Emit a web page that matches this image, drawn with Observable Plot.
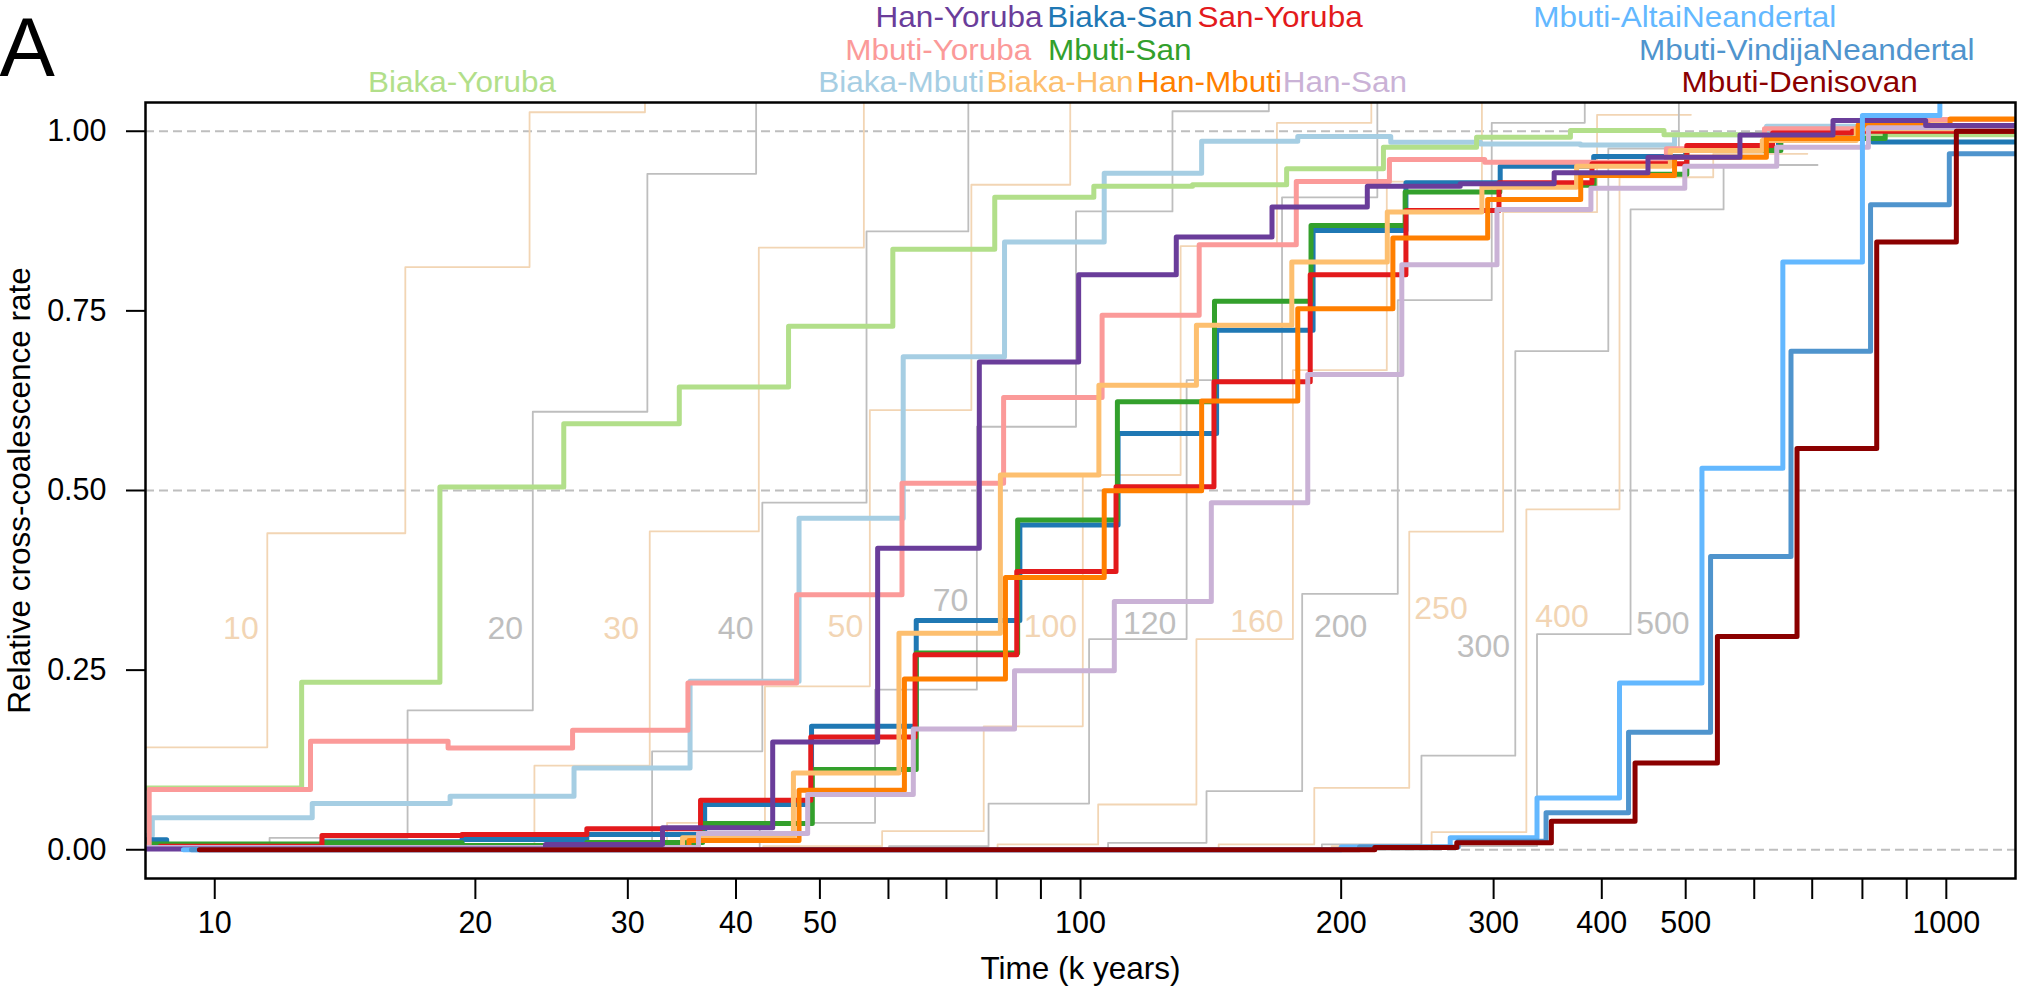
<!DOCTYPE html>
<html>
<head>
<meta charset="utf-8">
<script src="https://cdn.jsdelivr.net/npm/d3@7"></script>
<script src="https://cdn.jsdelivr.net/npm/@observablehq/plot@0.6"></script>
<style>
  html, body { margin: 0; padding: 0; background: #fff; }
  svg { display: block; }
</style>
</head>
<body>
<div id="chart"></div>
<script>
// ---------- data (time in k years, relative cross-coalescence rate) ----------
const biakaMbuti = [[8.0,0.02],[8.47,0.0444],[12.96,0.0644],[18.7,0.0745],[26.0,0.1139],[35.4,0.2344],[47.3,0.4613],[62.4,0.686],[81.7,0.8458],[106.5,0.9417],[138,0.9861],[178.2,0.9926],[228.2,0.9847],[289.8,0.9824],[378,0.981],[485.4,0.995],[620,1.007],[800,1.008],[1300,1.008]];
const biakaSan = [[8.0,0.014],[8.8,0.005],[13.3,0.011],[19.3,0.0143],[26.9,0.0213],[36.8,0.063],[48.9,0.1718],[64.6,0.3191],[85.1,0.4521],[110.5,0.5794],[143.6,0.723],[185.6,0.862],[237.6,0.9282],[305.3,0.9514],[391.5,0.9648],[500,0.975],[640,0.99],[822,0.985],[1300,0.995]];
const biakaYoruba = [[8.0,0.086],[12.6,0.233],[18.2,0.505],[25.3,0.593],[34.4,0.644],[46.0,0.7286],[60.7,0.8356],[79.6,0.908],[103.6,0.9236],[134.7,0.9255],[173,0.9477],[223.8,0.9778],[286.7,0.9917],[368,1.001],[472,0.995],[1300,0.995]];
const mbutiSan = [[8.0,0.008],[13.4,0.0097],[19.3,0.006],[26.9,0.01],[36.6,0.0366],[49.0,0.1116],[64.6,0.2737],[84.6,0.459],[110.3,0.6234],[142.8,0.7633],[184.6,0.8689],[237.1,0.9153],[305,0.925],[392,0.94],[501.5,0.9732],[644,0.99],[850,1.0],[1300,1.0]];
const mbutiYoruba = [[8.0,0.005],[8.4,0.0838],[12.9,0.151],[18.6,0.1417],[25.9,0.1663],[35.2,0.232],[47.0,0.3548],[62.2,0.51],[81.5,0.6295],[105.9,0.7439],[137.1,0.842],[177.5,0.93],[227.4,0.9607],[293,0.957],[378.2,0.957],[475,0.9755],[616.6,1.0033],[952,1.0163],[1300,1.0163]];
const sanYoruba = [[8.65,0.005],[13.3,0.0199],[19.3,0.0213],[26.9,0.0292],[36.4,0.069],[48.8,0.157],[64.4,0.2714],[84.4,0.3872],[109.9,0.5053],[142.6,0.6512],[184.2,0.8004],[237.6,0.8898],[304.3,0.9282],[389.7,0.9546],[501.5,0.9801],[630,0.9977],[778.6,1.0],[1300,1.0]];
const biakaHan = [[8.0,0.002],[34.7,0.0166],[46.6,0.107],[61.7,0.3015],[80.8,0.5216],[105,0.6466],[136.1,0.73],[175.4,0.818],[226.1,0.8875],[290.8,0.9222],[374.1,0.9514],[480,0.9732],[613,0.987],[787,1.0033],[1300,1.0033]];
const hanMbuti = [[8.0,0.002],[35.3,0.0129],[47.3,0.0829],[62.6,0.2376],[81.9,0.3789],[106.5,0.4998],[138,0.6244],[178.2,0.7531],[229.5,0.8513],[295.3,0.9051],[378.2,0.9384],[485.4,0.9639],[619.7,0.99],[791,1.0088],[1010,1.017],[1300,1.017]];
const hanSan = [[8.0,0.003],[36.2,0.0227],[48.4,0.0769],[64.1,0.1681],[83.9,0.2492],[109.4,0.3455],[141.6,0.4831],[183,0.6614],[235,0.8143],[302.7,0.8912],[388.6,0.9208],[498.8,0.9514],[637,0.9778],[812.8,1.0047],[1300,1.0047]];
const hanYoruba = [[8.0,0.001],[24.1,0.0074],[32.9,0.0305],[44.1,0.15],[58.3,0.4196],[76.4,0.679],[99.5,0.8004],[129,0.8527],[166.4,0.8944],[214.4,0.9236],[274.5,0.9268],[352.4,0.9421],[452.3,0.9639],[577.6,0.9949],[739.8,1.0149],[946.6,1.0079],[1300,1.0079]];
const mbutiAltai = [[9.2,0.0],[200,0.004],[267.3,0.0166],[336.7,0.0722],[419.3,0.232],[522.1,0.5308],[647.4,0.818],[800,1.0218],[983,1.3]];
const mbutiVindija = [[9.4,0.0],[210,0.004],[273,0.012],[344.9,0.0514],[429.5,0.1635],[534.2,0.408],[661.6,0.6939],[817.5,0.8977],[1008,0.9685],[1300,0.9685]];
const mbutiDenisovan = [[9.6,0.0],[218.7,0.003],[272,0.0097],[349.8,0.0398],[437,0.1209],[544,0.2969],[672.3,0.5586],[831,0.8458],[1027,1.0],[1300,1.0]];

const pairNames = ["Biaka-Mbuti","Biaka-San","Biaka-Yoruba","Mbuti-San","Mbuti-Yoruba","San-Yoruba","Biaka-Han","Han-Mbuti","Han-San","Han-Yoruba","Mbuti-AltaiNeandertal","Mbuti-VindijaNeandertal","Mbuti-Denisovan"];
const pairSeries = [biakaMbuti, biakaSan, biakaYoruba, mbutiSan, mbutiYoruba, sanYoruba, biakaHan, hanMbuti, hanSan, hanYoruba, mbutiAltai, mbutiVindija, mbutiDenisovan];
const pairColors = ["#A6CEE3","#1F78B4","#B2DF8A","#33A02C","#FB9A99","#E31A1C","#FDBF6F","#FF7F00","#CAB2D6","#6A3D9A","#63B8FF","#4F94CD","#8B0000"];
// where each pair name is written above the panel (k years) and its text row
const pairLabelTime = [62.1, 111, 19.3, 111, 68.5, 170, 94.7, 140.9, 202, 72.4, 498.7, 690, 677];
const pairLabelRow  = [3, 1, 3, 2, 2, 1, 3, 3, 3, 1, 1, 2, 3];

// simulated clean-split reference curves (split time in k years)
const ref10  = [[8.0,0.1426],[11.5,0.4405],[16.6,0.811],[23.1,1.0264],[31.4,1.3]];
const ref20  = [[8.0,0.0],[11.57,0.0166],[16.7,0.194],[23.3,0.6096],[31.6,0.9407],[42.2,1.3]];
const ref30  = [[8.0,0.0],[16.7,0.008],[23.4,0.117],[31.8,0.443],[42.5,0.838],[56.2,1.3]];
const ref40  = [[11.5,0.0],[23.3,0.007],[32.0,0.137],[42.9,0.483],[56.6,0.8606],[74.2,1.3]];
const ref50  = [[16.6,0.0],[33.3,0.0375],[43.2,0.2274],[57.1,0.612],[74.8,0.9255],[97.3,1.3]];
const ref70  = [[23,0.0],[42.6,0.0375],[57.9,0.2228],[75.9,0.5887],[98.8,0.8884],[127.7,1.0278],[165,1.3]];
const ref100 = [[31,0.0],[43,0.005],[59.0,0.0259],[77.3,0.1718],[100.6,0.5216],[130.5,0.8402],[168.6,1.0116],[216.7,1.3]];
const ref120 = [[42,0.0],[60.1,0.005],[78.3,0.0643],[102.3,0.2932],[132.6,0.6536],[170.9,0.908],[220.2,1.3]];
const ref160 = [[57,0.0],[80.2,0.0074],[104.8,0.063],[136.1,0.2932],[175.9,0.6674],[225.8,0.93],[290.8,1.3]];
const ref200 = [[80,0.0],[107.6,0.0097],[139.8,0.0815],[180.3,0.3562],[232.5,0.765],[298.5,1.0117],[382.3,1.3]];
const ref250 = [[100,0.0],[144.4,0.0074],[186.2,0.0861],[239.7,0.4428],[307.7,0.8874],[395,1.0228],[507,1.0228]];
const ref300 = [[140,0.0],[190,0.0074],[247.6,0.131],[317.8,0.6939],[407,0.976],[491,1.3]];
const ref400 = [[150,0.0],[195,0.005],[254.4,0.0245],[327.3,0.4738],[419.3,0.936],[538,0.9686],[691,0.9686]];
const ref500 = [[190,0.0],[260,0.005],[336.7,0.3001],[431.8,0.8912],[553,0.953],[710,0.953]];

const refSeries = [ref10, ref20, ref30, ref40, ref50, ref70, ref100, ref120, ref160, ref200, ref250, ref300, ref400, ref500];
const refLabelText = ["10","20","30","40","50","70","100","120","160","200","250","300","400","500"];
const refLabelTime = [11.24, 22.7, 30.9, 41.9, 56.1, 74.2, 99.1, 129, 171.6, 214.4, 280, 313.4, 386.3, 505.3];
const refLabelY    = [0.308, 0.308, 0.308, 0.308, 0.310, 0.346, 0.310, 0.314, 0.317, 0.311, 0.336, 0.283, 0.324, 0.315];

const xTicks = [10,20,30,40,50,60,70,80,90,100,200,300,400,500,600,700,800,900,1000];
const xTickLabeled = [10,20,30,40,50,100,200,300,400,500,1000];
const yTicks = [0, 0.25, 0.5, 0.75, 1];
const dashedLevels = [0, 0.5, 1];

// ---------- styling ----------
const FONT = "'Liberation Sans', Arial, Helvetica, sans-serif";
const TAN = "#F2D5B4";
const GREY = "#BEBEBE";
const refColor = (i) => (i % 2 === 0 ? TAN : GREY);
// baseline of the three label rows above the panel (in y units, above the domain)
const rowY = {1: 1.1446, 2: 1.0994, 3: 1.0542};
const LABEL_SIZE = 29;          // glyph height of the pair names
const LABEL_STRETCH = 31.5 / 29; // the names are drawn slightly wide

const toRows = (arr) => arr.map(([t, v]) => ({t, v}));

const refMarks = refSeries.map((s, i) =>
  Plot.line(toRows(s), {x: "t", y: "v", curve: "step-after", stroke: refColor(i), strokeWidth: 1.8, clip: true})
);
const pairMarks = pairSeries.map((s, i) =>
  Plot.line(toRows(s), {x: "t", y: "v", curve: "step-after", stroke: pairColors[i], strokeWidth: 5, clip: true,
    strokeLinecap: "round", strokeLinejoin: "round"})
);

const refLabels = refLabelText.map((txt, i) => ({txt, t: refLabelTime[i], y: refLabelY[i], c: refColor(i)}));
const pairLabels = pairNames.map((name, i) => ({name, t: pairLabelTime[i], y: rowY[pairLabelRow[i]], c: pairColors[i]}));

const chart = Plot.plot({
  width: 2020,
  height: 990,
  marginLeft: 145,
  marginRight: 5,
  marginTop: 102,
  marginBottom: 112,
  style: {fontFamily: FONT, background: "#fff", overflow: "visible"},
  color: {type: "identity"},
  x: {type: "log", domain: [8.318, 1202]},
  y: {domain: [-0.04, 1.04]},
  marks: [
    Plot.ruleY(dashedLevels, {stroke: GREY, strokeWidth: 2, strokeDasharray: "9,5"}),
    ...refMarks,
    Plot.text(refLabels, {x: "t", y: "y", text: "txt", fill: "c", fontSize: 32, textAnchor: "end", lineAnchor: "middle"}),
    ...pairMarks,
    Plot.frame({stroke: "black", strokeWidth: 2.5}),
    Plot.axisX(xTicks, {
      tickSize: 21, tickPadding: 12, fontSize: 30.5, strokeWidth: 2, label: null,
      tickFormat: (d) => (xTickLabeled.includes(d) ? String(d) : "")
    }),
    Plot.axisY(yTicks, {
      tickSize: 19, tickPadding: 20, fontSize: 30.5, strokeWidth: 2, label: null,
      tickFormat: d3.format(".2f")
    }),
    Plot.text(pairLabels, {x: "t", y: "y", text: "name", fill: "c", fontSize: LABEL_SIZE, textAnchor: "middle", lineAnchor: "bottom"}),
    Plot.text(["Time (k years)"], {frameAnchor: "bottom", dy: 100, textAnchor: "middle", lineAnchor: "bottom", fontSize: 31.5, fill: "black"}),
    Plot.text(["Relative cross-coalescence rate"], {frameAnchor: "left", dx: -116, rotate: -90, textAnchor: "middle", lineAnchor: "bottom", fontSize: 31.5, fill: "black"}),
    Plot.text(["A"], {frameAnchor: "top-left", dx: -146, dy: -27, textAnchor: "start", lineAnchor: "bottom", fontSize: 83, fill: "black"})
  ]
});

document.getElementById("chart").appendChild(chart);

// widen the pair names to the width they have in the figure
d3.select(chart).selectAll("text")
  .filter(function () { return pairNames.includes(this.textContent); })
  .each(function () {
    const len = this.getComputedTextLength();
    this.setAttribute("textLength", (len * LABEL_STRETCH).toFixed(1));
    this.setAttribute("lengthAdjust", "spacingAndGlyphs");
  });
</script>
</body>
</html>
